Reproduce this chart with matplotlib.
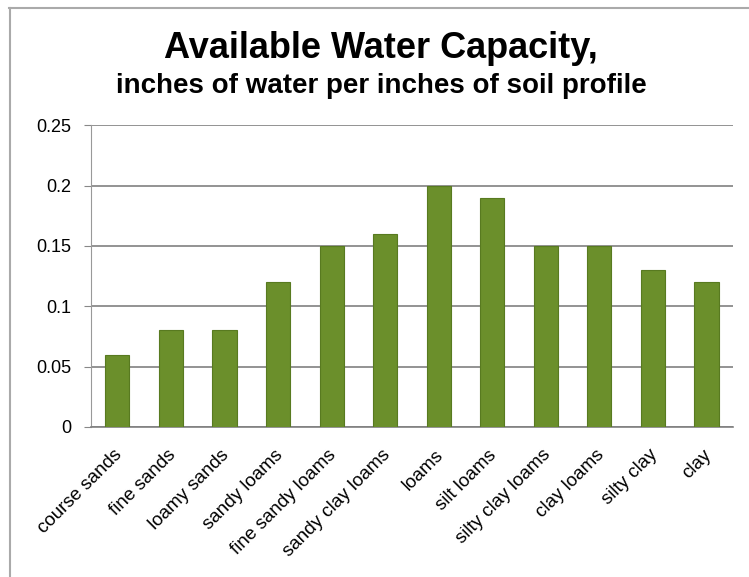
import matplotlib.pyplot as plt
from matplotlib.lines import Line2D
from matplotlib.transforms import ScaledTranslation

plt.rcParams['font.family'] = ['Liberation Sans', 'DejaVu Sans']

soils = ['course sands', 'fine sands', 'loamy sands', 'sandy loams',
         'fine sandy loams', 'sandy clay loams', 'loams', 'silt loams',
         'silty clay loams', 'clay loams', 'silty clay', 'clay']
capacity = [0.06, 0.08, 0.08, 0.12, 0.15, 0.16, 0.20, 0.19, 0.15, 0.15, 0.13, 0.12]
yticks = [0, 0.05, 0.1, 0.15, 0.2, 0.25]
ytick_labels = ['0', '0.05', '0.1', '0.15', '0.2', '0.25']

fig = plt.figure(figsize=(7.49, 5.77), dpi=100)
ax = fig.add_axes([0.121, 0.26, 0.858, 0.523])

x = range(len(soils))
ax.bar(x, capacity, width=0.45, color='#6b8f2b', edgecolor='#587a20',
       linewidth=0.8, zorder=3)

ax.set_xlim(-0.5, len(soils) - 0.5)
ax.set_ylim(0, 0.25)
ax.set_yticks(yticks)
ax.set_yticklabels(ytick_labels, fontsize=13)
ax.set_xticks(list(x))
ax.set_xticklabels(soils, rotation=45, ha='right', rotation_mode='anchor',
                   fontsize=13.5)
ax.tick_params(axis='x', length=0, pad=14)
ax.tick_params(axis='y', length=5, color='#888888', pad=9)
ax.yaxis.grid(True, color='#808080', linewidth=1.2, zorder=0)

# nudge the slanted labels a little to the left
shift = ScaledTranslation(-4 / 100, 0, fig.dpi_scale_trans)
for lab in ax.get_xticklabels():
    lab.set_transform(lab.get_transform() + shift)

for side in ['top', 'right']:
    ax.spines[side].set_visible(False)
ax.spines['left'].set_color('#999999')
ax.spines['bottom'].set_color('#808080')
ax.spines['bottom'].set_linewidth(1.2)

fig.text(0.509, 0.8995, 'Available Water Capacity,', ha='center',
         va='baseline', fontsize=26, fontweight='bold')
fig.text(0.509, 0.839, 'inches of water per inches of soil profile',
         ha='center', va='baseline', fontsize=20, fontweight='bold')

# outer frame of the chart
fig.add_artist(Line2D([0.012, 1.0], [0.986, 0.986], transform=fig.transFigure,
                      color='#aaaaaa', linewidth=1.5))
fig.add_artist(Line2D([0.013, 0.013], [0.0, 0.986], transform=fig.transFigure,
                      color='#aaaaaa', linewidth=1.5))

plt.savefig('out.png')
